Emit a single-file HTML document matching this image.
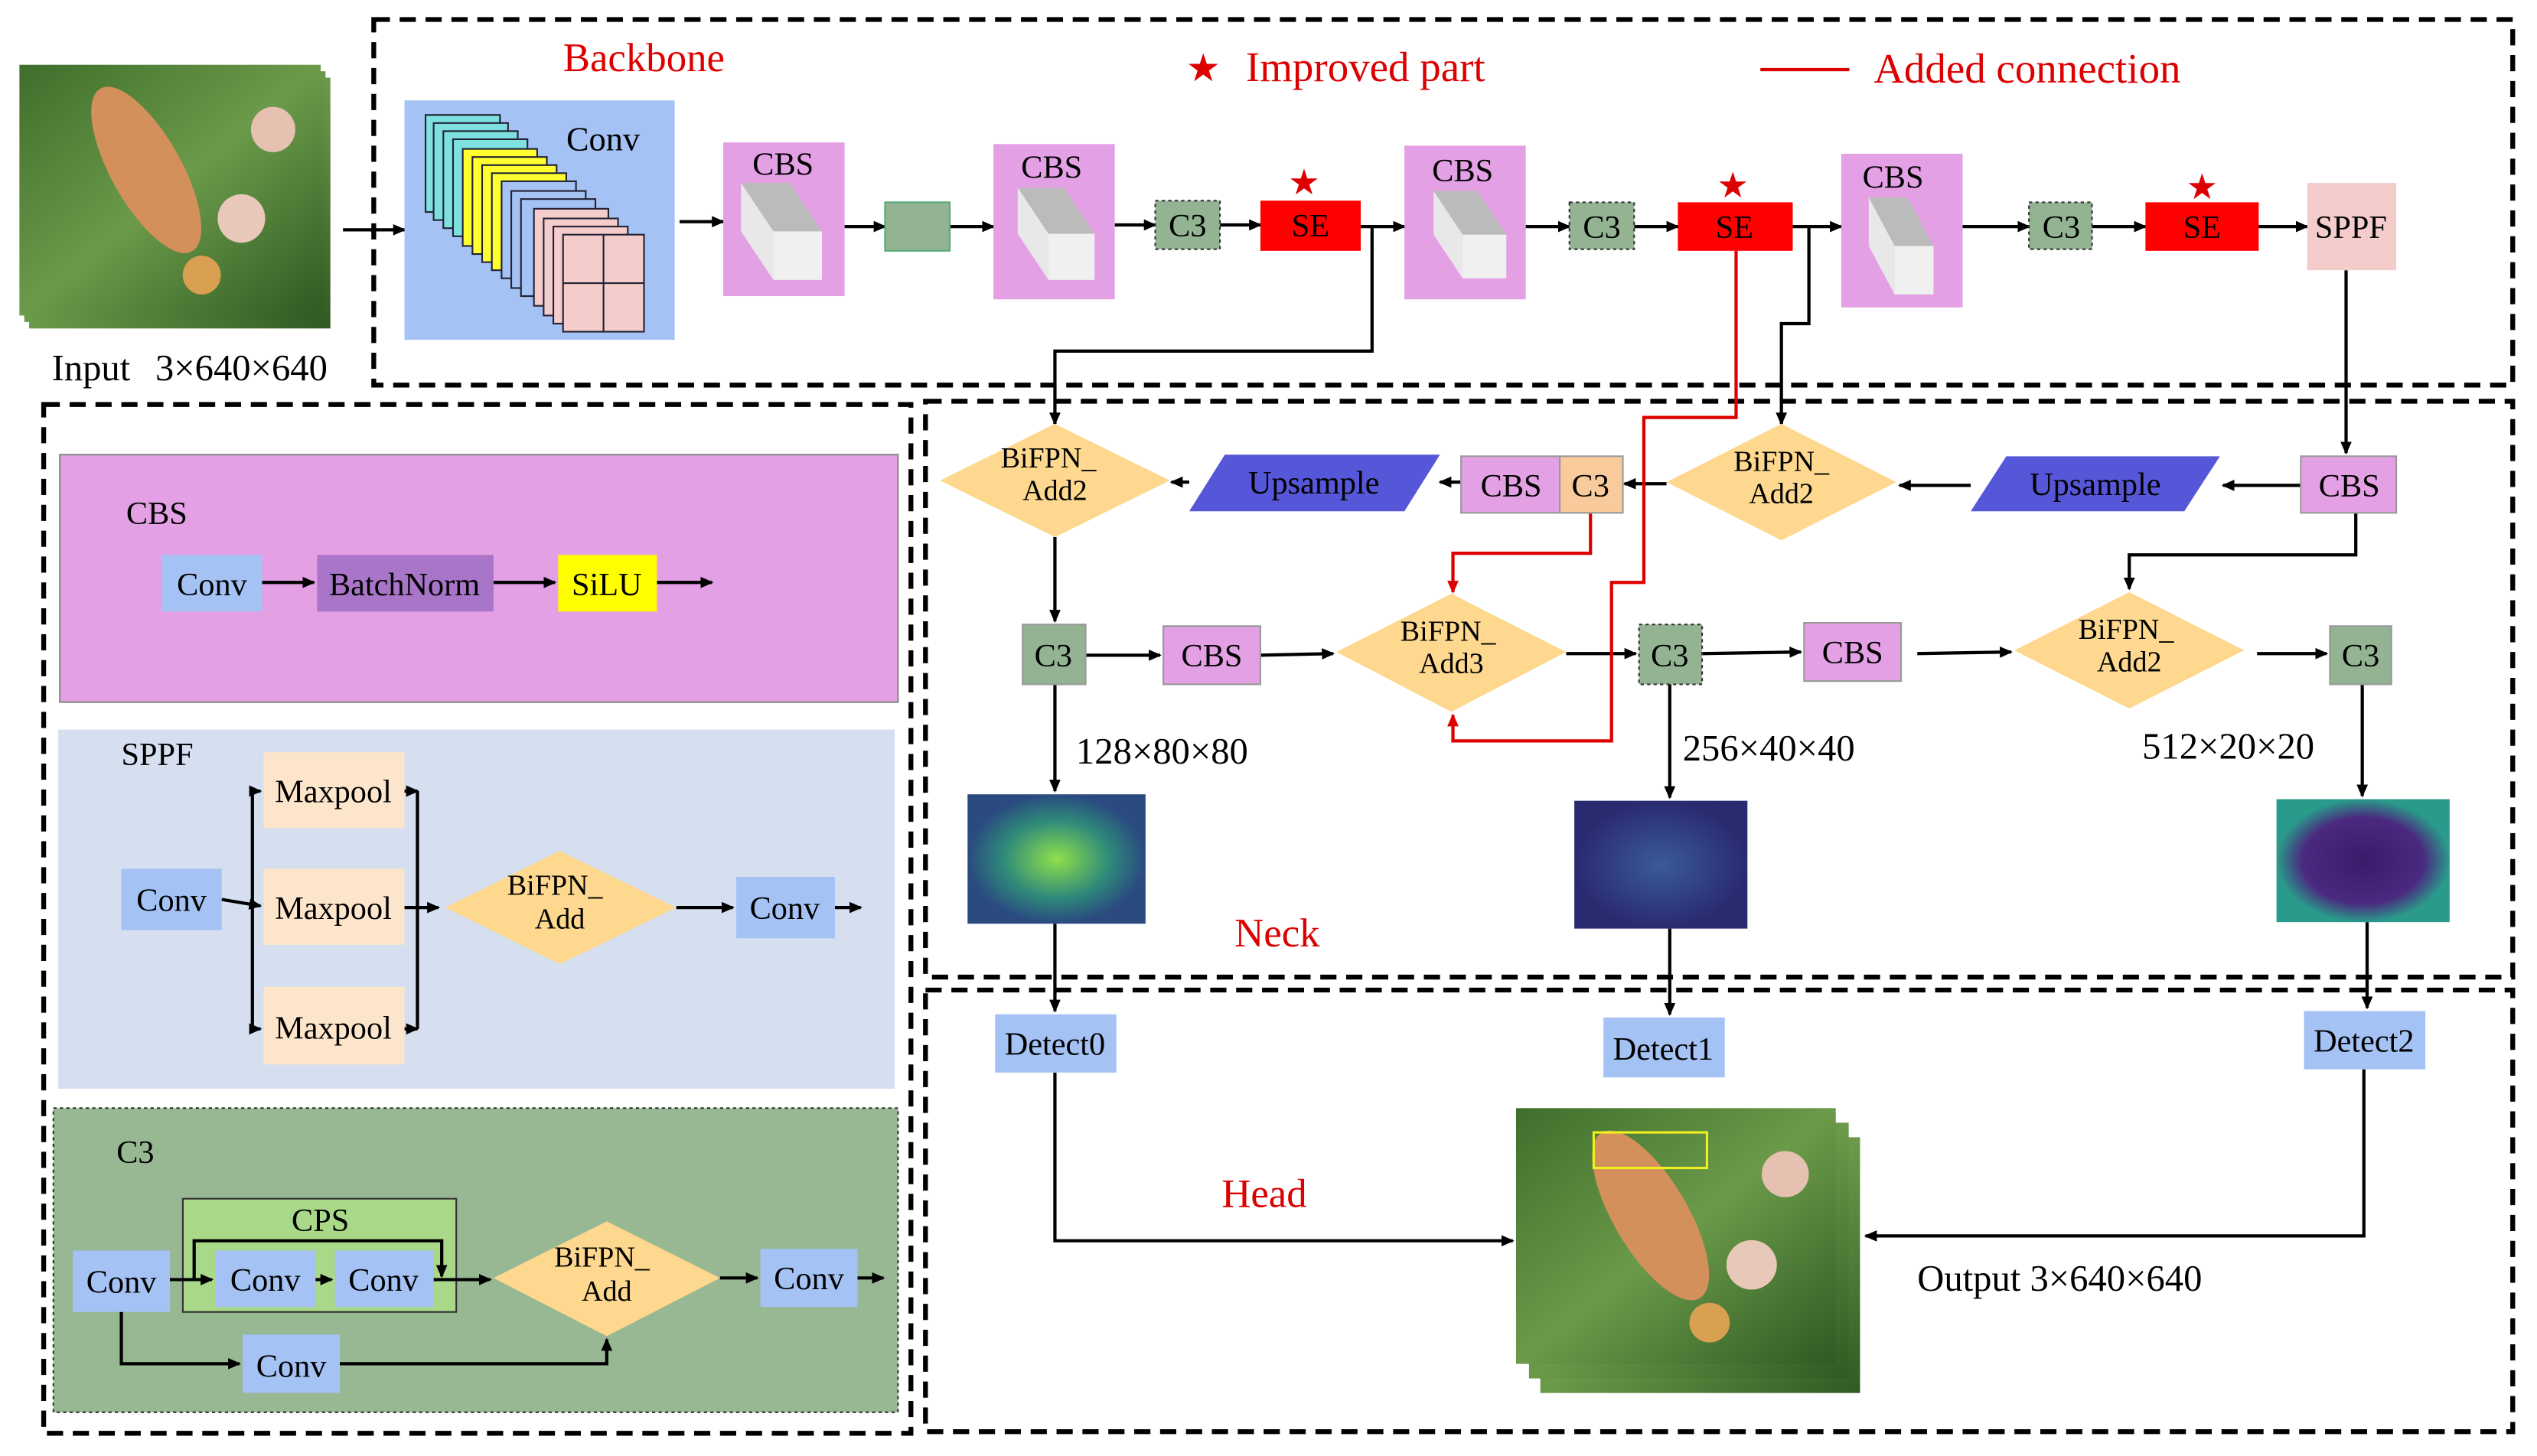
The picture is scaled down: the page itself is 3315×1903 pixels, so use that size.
<!DOCTYPE html>
<html><head><meta charset="utf-8"><style>html,body{margin:0;padding:0;background:#fff}svg{display:block}text{font-family:"Liberation Serif",serif}</style></head>
<body>
<svg width="3315" height="1903" viewBox="0 0 1568 900" xmlns="http://www.w3.org/2000/svg">
<defs>
<marker id="a" markerWidth="8" markerHeight="8" refX="7" refY="4" orient="auto" markerUnits="userSpaceOnUse"><path d="M0,0.5 L8,4 L0,7.5z" fill="#000"/></marker>
<marker id="r" markerWidth="8" markerHeight="8" refX="7" refY="4" orient="auto" markerUnits="userSpaceOnUse"><path d="M0,0.5 L8,4 L0,7.5z" fill="#d00"/></marker>
<linearGradient id="grass" x1="0" y1="0" x2="1" y2="1"><stop offset="0" stop-color="#3f6e2c"/><stop offset=".5" stop-color="#6b9a4a"/><stop offset="1" stop-color="#2f5a22"/></linearGradient>
<radialGradient id="fm1"><stop offset="0" stop-color="#8fe04a"/><stop offset=".6" stop-color="#2e8a7a"/><stop offset="1" stop-color="#2a4a80"/></radialGradient>
<radialGradient id="fm2"><stop offset="0" stop-color="#3a5a9a"/><stop offset="1" stop-color="#2a2a70"/></radialGradient>
<radialGradient id="fm3"><stop offset="0" stop-color="#3a1a6a"/><stop offset=".7" stop-color="#4a2a80"/><stop offset="1" stop-color="#2a9a8a"/></radialGradient>
<g id="pic">
<rect x="0" y="0" width="190" height="155" fill="url(#grass)"/>
<ellipse cx="80" cy="65" rx="22" ry="58" transform="rotate(-30 80 65)" fill="#d4905a"/>
<circle cx="160" cy="40" r="14" fill="#e6c0b0"/><circle cx="140" cy="95" r="15" fill="#e8c8b8"/><circle cx="115" cy="130" r="12" fill="#d8a050"/>
</g>
<g id="cube"><path d="M0,0 L30,0 L50,30 L20,30z" fill="#bbb"/><path d="M0,0 L20,30 L20,60 L0,30z" fill="#e8e8e8"/><rect x="20" y="30" width="30" height="30" fill="#f0f0f0"/></g>
</defs>
<g stroke="#000" stroke-width="3" stroke-dasharray="10,6" fill="none">
<rect x="231" y="12" width="1322" height="226"/>
<rect x="572" y="248" width="981" height="356"/>
<rect x="572" y="612" width="981" height="273"/>
<rect x="27" y="250" width="536" height="636"/>
</g>
<use href="#pic" transform="translate(18,48) scale(0.98,1)"/>
<use href="#pic" transform="translate(15,44) scale(0.98,1)"/>
<use href="#pic" transform="translate(12,40) scale(0.98,1)"/>
<text x="32" y="235" font-size="23">Input</text><text x="96" y="235" font-size="23">3×640×640</text>
<text x="348" y="44" font-size="25" fill="#d00">Backbone</text>
<text x="733" y="50" font-size="24" fill="#d00">★</text>
<text x="770" y="50" font-size="26" fill="#d00">Improved part</text>
<line x1="1088" y1="43" x2="1143" y2="43" stroke="#d00" stroke-width="2"/>
<text x="1158" y="51" font-size="26" fill="#d00">Added connection</text>
<g stroke="#000" stroke-width="2" fill="none" marker-end="url(#a)">
<line x1="212" y1="142" x2="250" y2="142"/>
<line x1="420" y1="137" x2="447" y2="137"/>
<line x1="522" y1="140" x2="547" y2="140"/>
<line x1="587" y1="140" x2="614" y2="140"/>
<line x1="689" y1="139" x2="714" y2="139"/>
<line x1="754" y1="139" x2="779" y2="139"/>
<line x1="841" y1="140" x2="868" y2="140"/>
<line x1="943" y1="140" x2="970" y2="140"/>
<line x1="1010" y1="140" x2="1037" y2="140"/>
<line x1="1108" y1="140" x2="1138" y2="140"/>
<line x1="1213" y1="140" x2="1254" y2="140"/>
<line x1="1293" y1="140" x2="1326" y2="140"/>
<line x1="1396" y1="140" x2="1426" y2="140"/>
<polyline points="848,140 848,217 652,217 652,262"/>
<polyline points="1118,140 1118,200 1101,200 1101,262"/>
<line x1="1450" y1="167" x2="1450" y2="280"/>
<line x1="1422" y1="300" x2="1374" y2="300"/>
<line x1="1218" y1="300" x2="1174" y2="300"/>
<line x1="1030" y1="299" x2="1004" y2="299"/>
<line x1="903" y1="298" x2="890" y2="298"/>
<line x1="735" y1="298" x2="724" y2="298"/>
<line x1="652" y1="332" x2="652" y2="384"/>
<line x1="671" y1="405" x2="717" y2="405"/>
<line x1="779" y1="405" x2="824" y2="404"/>
<line x1="968" y1="404" x2="1011" y2="404"/>
<line x1="1052" y1="404" x2="1113" y2="403"/>
<line x1="1185" y1="404" x2="1243" y2="403"/>
<line x1="1395" y1="404" x2="1438" y2="404"/>
<polyline points="1456,317 1456,343 1316,343 1316,364"/>
<line x1="652" y1="423" x2="652" y2="489"/>
<line x1="1032" y1="423" x2="1032" y2="493"/>
<line x1="1460" y1="423" x2="1460" y2="492"/>
<line x1="652" y1="571" x2="652" y2="625"/>
<line x1="1032" y1="574" x2="1032" y2="627"/>
<line x1="1463" y1="570" x2="1463" y2="623"/>
<polyline points="652,663 652,767 935,767"/>
<polyline points="1461,661 1461,764 1153,764"/>
</g>
<g stroke="#d00" stroke-width="2" fill="none" marker-end="url(#r)">
<polyline points="1073,155 1073,258 1016,258 1016,360 996,360 996,458 898,458 898,442"/>
<polyline points="983,317 983,342 898,342 898,366"/>
</g>
<rect x="250" y="62" width="167" height="148" fill="#a4c2f4"/>
<g stroke="#223" stroke-width="1">
<rect x="263" y="71" width="46" height="60" fill="#7ee0e0"/><rect x="268" y="76" width="46" height="60" fill="#7ee0e0"/><rect x="274" y="81" width="46" height="60" fill="#7ee0e0"/><rect x="280" y="86" width="46" height="60" fill="#7ee0e0"/>
<rect x="286" y="92" width="46" height="60" fill="#ffff30"/><rect x="292" y="97" width="46" height="60" fill="#ffff30"/><rect x="298" y="102" width="46" height="60" fill="#ffff30"/><rect x="304" y="107" width="46" height="60" fill="#ffff30"/>
<rect x="310" y="112" width="46" height="60" fill="#a4c2f4"/><rect x="316" y="118" width="46" height="60" fill="#a4c2f4"/><rect x="322" y="123" width="46" height="60" fill="#a4c2f4"/>
<rect x="330" y="129" width="46" height="60" fill="#f4cccc"/><rect x="336" y="135" width="46" height="60" fill="#f4cccc"/><rect x="342" y="140" width="46" height="60" fill="#f4cccc"/><rect x="348" y="145" width="50" height="60" fill="#f4cccc"/>
<line x1="373" y1="145" x2="373" y2="205"/><line x1="348" y1="175" x2="398" y2="175"/>
</g>
<text x="350" y="93" font-size="21">Conv</text>
<g font-size="20" text-anchor="middle">
<rect x="447" y="88" width="75" height="95" fill="#e4a0e4"/><text x="484" y="108">CBS</text><use href="#cube" transform="translate(458,113)"/>
<rect x="547" y="125" width="40" height="30" fill="#93b393" stroke="#5a7" stroke-width="1"/>
<rect x="614" y="89" width="75" height="96" fill="#e4a0e4"/><text x="650" y="110">CBS</text><use href="#cube" transform="translate(629,116) scale(0.95)"/>
<rect x="714" y="124" width="40" height="30" fill="#93b393" stroke="#333" stroke-dasharray="2,2"/><text x="734" y="146">C3</text>
<rect x="779" y="124" width="62" height="31" fill="#f00"/><text x="810" y="146">SE</text>
<text x="806" y="120" fill="#d00" font-size="22">★</text>
<rect x="868" y="90" width="75" height="95" fill="#e4a0e4"/><text x="904" y="112">CBS</text><use href="#cube" transform="translate(886,118) scale(0.9)"/>
<rect x="970" y="125" width="40" height="29" fill="#93b393" stroke="#333" stroke-dasharray="2,2"/><text x="990" y="147">C3</text>
<rect x="1037" y="125" width="71" height="30" fill="#f00"/><text x="1072" y="147">SE</text>
<text x="1071" y="122" fill="#d00" font-size="22">★</text>
<rect x="1138" y="95" width="75" height="95" fill="#e4a0e4"/><text x="1170" y="116">CBS</text><use href="#cube" transform="translate(1155,122) scale(0.8,1)"/>
<rect x="1254" y="125" width="39" height="29" fill="#93b393" stroke="#333" stroke-dasharray="2,2"/><text x="1274" y="147">C3</text>
<rect x="1326" y="125" width="70" height="30" fill="#f00"/><text x="1361" y="147">SE</text>
<text x="1361" y="123" fill="#d00" font-size="22">★</text>
<rect x="1426" y="113" width="55" height="54" fill="#f4cccc"/><text x="1453" y="147">SPPF</text>
<rect x="1422" y="282" width="59" height="35" fill="#e4a0e4" stroke="#999" stroke-width="1"/><text x="1452" y="307">CBS</text>
<polygon points="1240,282 1372,282 1350,316 1218,316" fill="#5656d8"/><text x="1295" y="306">Upsample</text>
<polygon points="1101,262 1172,298 1101,334 1030,298" fill="#fdd88e"/><text x="1101" y="291" font-size="18">BiFPN_</text><text x="1101" y="311" font-size="18">Add2</text>
<rect x="964" y="282" width="39" height="35" fill="#f9cb9c" stroke="#999" stroke-width="1"/><text x="983" y="307">C3</text>
<rect x="903" y="282" width="61" height="35" fill="#e4a0e4" stroke="#999" stroke-width="1"/><text x="934" y="307">CBS</text>
<polygon points="757,281 890,281 868,316 735,316" fill="#5656d8"/><text x="812" y="305">Upsample</text>
<polygon points="652,262 723,297 652,332 581,297" fill="#fdd88e"/><text x="648" y="289" font-size="18">BiFPN_</text><text x="652" y="309" font-size="18">Add2</text>
<rect x="632" y="386" width="39" height="37" fill="#93b393" stroke="#999" stroke-width="1"/><text x="651" y="412">C3</text>
<rect x="719" y="387" width="60" height="36" fill="#e4a0e4" stroke="#999" stroke-width="1"/><text x="749" y="412">CBS</text>
<polygon points="897,367 968,403 897,440 826,403" fill="#fdd88e"/><text x="895" y="396" font-size="18">BiFPN_</text><text x="897" y="416" font-size="18">Add3</text>
<rect x="1013" y="386" width="39" height="37" fill="#93b393" stroke="#333" stroke-dasharray="2,2"/><text x="1032" y="412">C3</text>
<rect x="1115" y="385" width="60" height="36" fill="#e4a0e4" stroke="#999" stroke-width="1"/><text x="1145" y="410">CBS</text>
<polygon points="1316,366 1387,402 1316,438 1245,402" fill="#fdd88e"/><text x="1314" y="395" font-size="18">BiFPN_</text><text x="1316" y="415" font-size="18">Add2</text>
<rect x="1440" y="387" width="38" height="36" fill="#93b393" stroke="#999" stroke-width="1"/><text x="1459" y="412">C3</text>
</g>
<g font-size="23">
<text x="665" y="472">128×80×80</text><text x="1040" y="470">256×40×40</text><text x="1324" y="469">512×20×20</text>
</g>
<rect x="598" y="491" width="110" height="80" fill="url(#fm1)"/>
<rect x="973" y="495" width="107" height="79" fill="url(#fm2)"/>
<rect x="1407" y="494" width="107" height="76" fill="url(#fm3)"/>
<text x="763" y="585" font-size="25" fill="#d00">Neck</text>
<g font-size="20" text-anchor="middle">
<rect x="615" y="627" width="75" height="36" fill="#a4c2f4"/><text x="652" y="652">Detect0</text>
<rect x="991" y="629" width="75" height="37" fill="#a4c2f4"/><text x="1028" y="655">Detect1</text>
<rect x="1424" y="625" width="75" height="36" fill="#a4c2f4"/><text x="1461" y="650">Detect2</text>
</g>
<text x="755" y="746" font-size="25" fill="#d00">Head</text>
<use href="#pic" transform="translate(952,703) scale(1.04,1.02)"/>
<use href="#pic" transform="translate(945,694) scale(1.04,1.02)"/>
<use href="#pic" transform="translate(937,685) scale(1.04,1.02)"/>
<rect x="985" y="700" width="70" height="22" fill="none" stroke="#ee2" stroke-width="1.5"/>
<text x="1185" y="798" font-size="23">Output 3×640×640</text>
<rect x="37" y="281" width="518" height="153" fill="#e4a0e4" stroke="#888" stroke-width="1"/>
<text x="78" y="324" font-size="20">CBS</text>
<rect x="36" y="451" width="517" height="222" fill="#d6dff0"/>
<text x="75" y="473" font-size="20">SPPF</text>
<rect x="33" y="685" width="522" height="188" fill="#98b894" stroke="#333" stroke-width="1" stroke-dasharray="2,2"/>
<text x="72" y="719" font-size="20">C3</text>
<rect x="113" y="741" width="169" height="70" fill="#a8d888" stroke="#333" stroke-width="1"/>
<g stroke="#000" stroke-width="2" fill="none" marker-end="url(#a)">
<line x1="162" y1="360" x2="194" y2="360"/><line x1="305" y1="360" x2="343" y2="360"/><line x1="406" y1="360" x2="440" y2="360"/>
<line x1="137" y1="556" x2="161" y2="560"/>
<polyline points="156,560 156,489 161,489"/><polyline points="156,560 156,636 161,636"/>
<polyline points="250,489 258,489"/><polyline points="250,561 271,561"/><polyline points="250,636 258,636"/>
<line x1="418" y1="561" x2="453" y2="561"/><line x1="516" y1="561" x2="532" y2="561"/>
<line x1="105" y1="791" x2="131" y2="791"/><line x1="195" y1="791" x2="205" y2="791"/>
<polyline points="120,791 120,767 273,767 273,789"/>
<line x1="268" y1="791" x2="303" y2="791"/>
<line x1="445" y1="790" x2="468" y2="790"/><line x1="530" y1="790" x2="546" y2="790"/>
<polyline points="75,811 75,843 148,843"/>
<polyline points="210,843 375,843 375,828"/>
</g>
<line x1="258" y1="489" x2="258" y2="636" stroke="#000" stroke-width="2"/>
<g font-size="20" text-anchor="middle">
<rect x="100" y="343" width="62" height="35" fill="#a4c2f4"/><text x="131" y="368">Conv</text>
<rect x="196" y="343" width="109" height="35" fill="#a875c8"/><text x="250" y="368">BatchNorm</text>
<rect x="345" y="343" width="61" height="35" fill="#ffff00"/><text x="375" y="368">SiLU</text>
<rect x="75" y="537" width="62" height="38" fill="#a4c2f4"/><text x="106" y="563">Conv</text>
<rect x="163" y="465" width="87" height="47" fill="#fde5cc"/><text x="206" y="496">Maxpool</text>
<rect x="163" y="537" width="87" height="47" fill="#fde5cc"/><text x="206" y="568">Maxpool</text>
<rect x="163" y="610" width="87" height="48" fill="#fde5cc"/><text x="206" y="642">Maxpool</text>
<polygon points="346,526 418,561 346,596 275,561" fill="#fdd88e"/><text x="343" y="553" font-size="18">BiFPN_</text><text x="346" y="574" font-size="18">Add</text>
<rect x="455" y="542" width="61" height="38" fill="#a4c2f4"/><text x="485" y="568">Conv</text>
<text x="198" y="761">CPS</text>
<rect x="45" y="773" width="60" height="38" fill="#a4c2f4"/><text x="75" y="799">Conv</text>
<rect x="133" y="773" width="62" height="35" fill="#a4c2f4"/><text x="164" y="798">Conv</text>
<rect x="207" y="773" width="61" height="35" fill="#a4c2f4"/><text x="237" y="798">Conv</text>
<polygon points="375,755 445,790 375,826 305,790" fill="#fdd88e"/><text x="372" y="783" font-size="18">BiFPN_</text><text x="375" y="804" font-size="18">Add</text>
<rect x="470" y="772" width="60" height="36" fill="#a4c2f4"/><text x="500" y="797">Conv</text>
<rect x="150" y="825" width="60" height="36" fill="#a4c2f4"/><text x="180" y="851">Conv</text>
</g>
</svg>
</body></html>
